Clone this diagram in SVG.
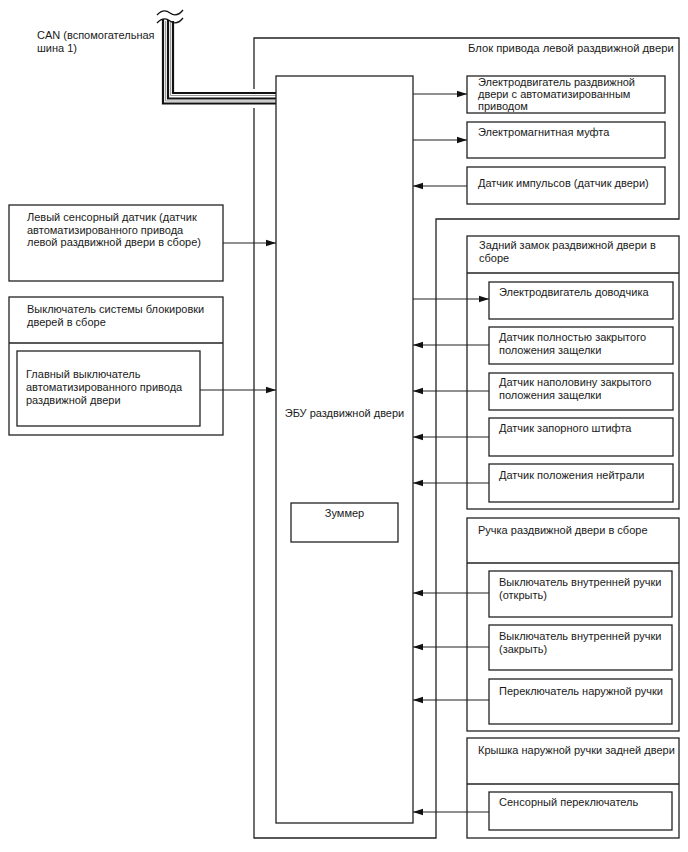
<svg xmlns="http://www.w3.org/2000/svg" width="688" height="852" viewBox="0 0 688 852">
<defs>
<style>
.b{fill:none;stroke:#222;stroke-width:1.3}
.t{font-family:"Liberation Sans",Arial,sans-serif;font-size:11px;fill:#1a1a1a}
.c{text-anchor:middle}
.w{fill:none;stroke:#222;stroke-width:1.2}
</style>
<marker id="ah" viewBox="0 0 10 8" refX="10" refY="4" markerWidth="10" markerHeight="8" markerUnits="userSpaceOnUse" orient="auto">
<path d="M0,0.8 L10,4 L0,7.2 Z" fill="#111"/>
</marker>
</defs>
<rect width="688" height="852" fill="#fff"/>

<g id="drive-unit">
<path class="b" d="M254,38 H679 V219 H436 V838 H254 Z"/>
<text class="t" x="468" y="52" style="font-size:11.25px">Блок привода левой раздвижной двери</text>
</g>

<g id="can-bus">
<path d="M168,19 V98.5 H275" fill="none" stroke="#fff" stroke-width="19"/>
<path d="M165.5,21 V101 H276 M170.5,22 V95.5 H276" fill="none" stroke="#999" stroke-width="1"/>
<path d="M163,19 V103.5 H276 M168,20 V98.5 H276 M173,21 V93 H276" fill="none" stroke="#111" stroke-width="2.2"/>
<path d="M157,15 q6.5,-7 13,-2 t13,-3" fill="none" stroke="#111" stroke-width="1.3"/>
<path d="M157,23 q6.5,-7 13,-2 t13,-3" fill="none" stroke="#111" stroke-width="1.3"/>
<text class="t" x="37" y="39">CAN (вспомогательная</text>
<text class="t" x="37" y="52">шина 1)</text>
</g>

<g id="ecu">
<rect class="b" x="276" y="76" width="137" height="747"/>
<text class="t c" x="344.5" y="417">ЭБУ раздвижной двери</text>
</g>
<g id="buzzer">
<rect class="b" x="291" y="503" width="107" height="39"/>
<text class="t c" x="344.5" y="517">Зуммер</text>
</g>

<g id="slide-motor">
<rect class="b" x="467" y="76" width="198" height="37"/>
<text class="t" x="478" y="86">Электродвигатель раздвижной</text>
<text class="t" x="478" y="98">двери с автоматизированным</text>
<text class="t" x="478" y="110">приводом</text>
</g>
<g id="clutch">
<rect class="b" x="467" y="122" width="198" height="36"/>
<text class="t" x="478" y="136">Электромагнитная муфта</text>
</g>
<g id="pulse-sensor">
<rect class="b" x="467" y="167" width="198" height="37"/>
<text class="t" x="478" y="187">Датчик импульсов (датчик двери)</text>
</g>

<g id="touch-sensor">
<rect class="b" x="9" y="205" width="214" height="76"/>
<text class="t" x="27" y="221">Левый сенсорный датчик (датчик</text>
<text class="t" x="27" y="233.5">автоматизированного привода</text>
<text class="t" x="27" y="246">левой раздвижной двери в сборе)</text>
</g>

<g id="lock-switch-assy">
<rect class="b" x="9" y="297" width="214" height="138"/>
<line class="b" x1="9" y1="343" x2="223" y2="343"/>
<text class="t" x="27" y="313">Выключатель системы блокировки</text>
<text class="t" x="27" y="326">дверей в сборе</text>
</g>
<g id="main-switch">
<rect class="b" x="17" y="351" width="183" height="75"/>
<text class="t" x="26" y="378">Главный выключатель</text>
<text class="t" x="26" y="391">автоматизированного привода</text>
<text class="t" x="26" y="404">раздвижной двери</text>
</g>

<g id="rear-lock-assy">
<rect class="b" x="467" y="236" width="212" height="273"/>
<line class="b" x1="467" y1="273" x2="679" y2="273"/>
<text class="t" x="479" y="249">Задний замок раздвижной двери в</text>
<text class="t" x="479" y="262">сборе</text>
</g>
<g id="closer-motor">
<rect class="b" x="489" y="282" width="184" height="37"/>
<text class="t" x="499" y="296">Электродвигатель доводчика</text>
</g>
<g id="full-latch">
<rect class="b" x="489" y="327" width="184" height="37"/>
<text class="t" x="499" y="341">Датчик полностью закрытого</text>
<text class="t" x="499" y="354">положения защелки</text>
</g>
<g id="half-latch">
<rect class="b" x="489" y="373" width="184" height="37"/>
<text class="t" x="499" y="386">Датчик наполовину закрытого</text>
<text class="t" x="499" y="399">положения защелки</text>
</g>
<g id="pawl-sensor">
<rect class="b" x="489" y="418" width="184" height="38"/>
<text class="t" x="499" y="432">Датчик запорного штифта</text>
</g>
<g id="neutral-sensor">
<rect class="b" x="489" y="464" width="184" height="38"/>
<text class="t" x="499" y="479">Датчик положения нейтрали</text>
</g>

<g id="handle-assy">
<rect class="b" x="467" y="518" width="212" height="213"/>
<line class="b" x1="467" y1="563" x2="679" y2="563"/>
<text class="t" x="478" y="534">Ручка раздвижной двери в сборе</text>
</g>
<g id="inside-open">
<rect class="b" x="489" y="571" width="183" height="46"/>
<text class="t" x="499" y="586">Выключатель внутренней ручки</text>
<text class="t" x="499" y="599">(открыть)</text>
</g>
<g id="inside-close">
<rect class="b" x="489" y="625" width="183" height="45"/>
<text class="t" x="499" y="640">Выключатель внутренней ручки</text>
<text class="t" x="499" y="653">(закрыть)</text>
</g>
<g id="outside-switch">
<rect class="b" x="489" y="679" width="183" height="45"/>
<text class="t" x="499" y="695">Переключатель наружной ручки</text>
</g>

<g id="cover-assy">
<rect class="b" x="467" y="738" width="212" height="100"/>
<line class="b" x1="467" y1="784" x2="679" y2="784"/>
<text class="t" x="478" y="754">Крышка наружной ручки задней двери</text>
</g>
<g id="touch-switch">
<rect class="b" x="489" y="792" width="183" height="38"/>
<text class="t" x="499" y="806">Сенсорный переключатель</text>
</g>

<g id="connectors">
<line class="w" x1="413" y1="94" x2="467" y2="94" marker-end="url(#ah)"/>
<line class="w" x1="413" y1="140" x2="467" y2="140" marker-end="url(#ah)"/>
<line class="w" x1="467" y1="186" x2="413" y2="186" marker-end="url(#ah)"/>
<line class="w" x1="223" y1="243" x2="276" y2="243" marker-end="url(#ah)"/>
<line class="w" x1="200" y1="390" x2="276" y2="390" marker-end="url(#ah)"/>
<line class="w" x1="413" y1="299" x2="489" y2="299" marker-end="url(#ah)"/>
<line class="w" x1="489" y1="345" x2="413" y2="345" marker-end="url(#ah)"/>
<line class="w" x1="489" y1="391" x2="413" y2="391" marker-end="url(#ah)"/>
<line class="w" x1="489" y1="437" x2="413" y2="437" marker-end="url(#ah)"/>
<line class="w" x1="489" y1="483" x2="413" y2="483" marker-end="url(#ah)"/>
<line class="w" x1="489" y1="593" x2="413" y2="593" marker-end="url(#ah)"/>
<line class="w" x1="489" y1="647" x2="413" y2="647" marker-end="url(#ah)"/>
<line class="w" x1="489" y1="700" x2="413" y2="700" marker-end="url(#ah)"/>
<line class="w" x1="489" y1="812" x2="413" y2="812" marker-end="url(#ah)"/>
</g>
</svg>
